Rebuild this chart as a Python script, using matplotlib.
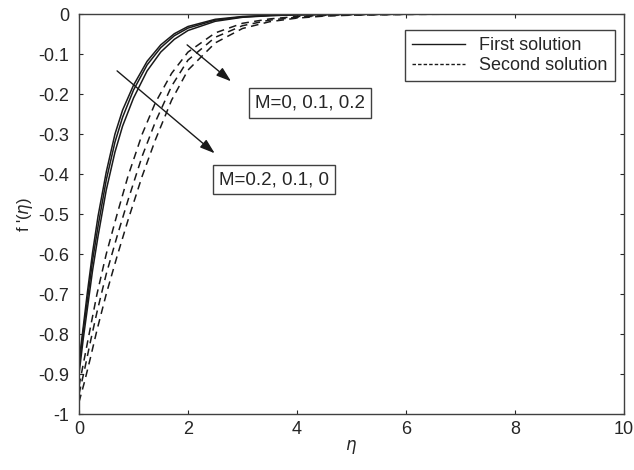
import numpy as np
import matplotlib
matplotlib.use("Agg")
import matplotlib.pyplot as plt

plt.rcParams['font.family'] = ['Liberation Sans', 'DejaVu Sans']

# values, f'(eta) for three M values, two solution branches
eta_first = [0, 0.08, 0.15, 0.25, 0.35, 0.5, 0.66, 0.8, 1.0, 1.25, 1.5, 1.75, 2.0, 2.5, 3.0, 3.5, 4.0, 5.0, 6.0, 8.0, 10.0]
first_1 = [-0.87, -0.78, -0.70, -0.595, -0.505, -0.395, -0.30, -0.24, -0.178, -0.118, -0.077, -0.049, -0.031, -0.013, -0.006, -0.003, -0.0012, -0.0002, 0, 0, 0]
first_2 = [-0.88, -0.79, -0.72, -0.615, -0.53, -0.415, -0.32, -0.258, -0.19, -0.127, -0.084, -0.054, -0.035, -0.015, -0.007, -0.0035, -0.0015, -0.0003, 0, 0, 0]
first_3 = [-0.90, -0.81, -0.74, -0.64, -0.555, -0.44, -0.345, -0.28, -0.21, -0.142, -0.095, -0.063, -0.041, -0.018, -0.008, -0.004, -0.002, -0.0004, -0.0001, 0, 0]

eta_second = [0, 0.1, 0.2, 0.33, 0.5, 0.7, 0.9, 1.16, 1.4, 1.7, 2.0, 2.5, 3.0, 3.5, 4.0, 4.5, 5.0, 6.0, 7.0, 8.0, 10.0]
second_1 = [-0.93, -0.86, -0.79, -0.70, -0.60, -0.50, -0.405, -0.30, -0.222, -0.148, -0.095, -0.047, -0.023, -0.012, -0.006, -0.003, -0.0015, -0.0004, 0, 0, 0]
second_2 = [-0.95, -0.89, -0.825, -0.745, -0.65, -0.555, -0.465, -0.355, -0.27, -0.18, -0.115, -0.058, -0.029, -0.015, -0.008, -0.004, -0.002, -0.0006, -0.0001, 0, 0]
second_3 = [-0.97, -0.92, -0.865, -0.79, -0.70, -0.605, -0.515, -0.405, -0.315, -0.215, -0.14, -0.072, -0.036, -0.019, -0.010, -0.005, -0.0027, -0.0008, -0.0002, 0, 0]

labels_up = "M=0, 0.1, 0.2"
labels_down = "M=0.2, 0.1, 0"

fig = plt.figure(figsize=(6.34, 4.70), dpi=100)
ax = fig.add_axes([0.1246, 0.119, 0.8594, 0.851])

for y in [first_1, first_2, first_3]:
    ax.plot(eta_first, y, color="#1a1a1a", lw=1.1, ls="-")
for y in [second_1, second_2, second_3]:
    ax.plot(eta_second, y, color="#1a1a1a", lw=1.1, ls=(0, (5, 3.5)))

# legend handles
ax.plot([], [], color="#1a1a1a", lw=1.0, ls="-", label="First solution")
ax.plot([], [], color="#1a1a1a", lw=1.0, ls=(0, (2.5, 1.5)), label="Second solution")
leg = ax.legend(loc="upper right", bbox_to_anchor=(0.9835, 0.96), borderaxespad=0,
                fontsize=13, fancybox=False, edgecolor="#404040", handlelength=2.9,
                borderpad=0.4, labelspacing=0.15, handletextpad=0.8, framealpha=1)
leg.get_frame().set_linewidth(1.0)
for t in leg.get_texts():
    t.set_color("#262626")

# arrows
ax.annotate("", xy=(2.83, -0.1725), xytext=(1.945, -0.0725),
            arrowprops=dict(arrowstyle="-|>,head_length=0.9,head_width=0.3", color="#1a1a1a", lw=1.0))
ax.annotate("", xy=(2.53, -0.3525), xytext=(0.66, -0.1375),
            arrowprops=dict(arrowstyle="-|>,head_length=0.9,head_width=0.3", color="#1a1a1a", lw=1.0))

box = dict(boxstyle="square,pad=0.33", fc="white", ec="#404040", lw=1.0)
ax.text(4.24, -0.222, labels_up, ha="center", va="center", fontsize=13.5, color="#262626", bbox=box)
ax.text(3.58, -0.414, labels_down, ha="center", va="center", fontsize=13.5, color="#262626", bbox=box)

ax.set_xlim(0, 10)
ax.set_ylim(-1, 0)
ax.set_xticks(np.arange(0, 11, 2))
ax.set_yticks(np.round(np.arange(-1, 0.01, 0.1), 1))
ax.set_yticklabels(["-1", "-0.9", "-0.8", "-0.7", "-0.6", "-0.5", "-0.4", "-0.3", "-0.2", "-0.1", "0"])
ax.tick_params(direction="in", length=3, width=0.8, top=True, right=True,
               labelsize=13, colors="#262626")
ax.tick_params(axis="x", pad=5)
ax.tick_params(axis="y", pad=7)
for s in ax.spines.values():
    s.set_color("#404040")
    s.set_linewidth(1.0)

ax.set_xlabel(r"$\eta$", fontsize=12, color="#262626", labelpad=0)
ax.set_ylabel(r"f '($\eta$)", fontsize=12, color="#262626", labelpad=2)

fig.savefig("out.png", dpi=100)
